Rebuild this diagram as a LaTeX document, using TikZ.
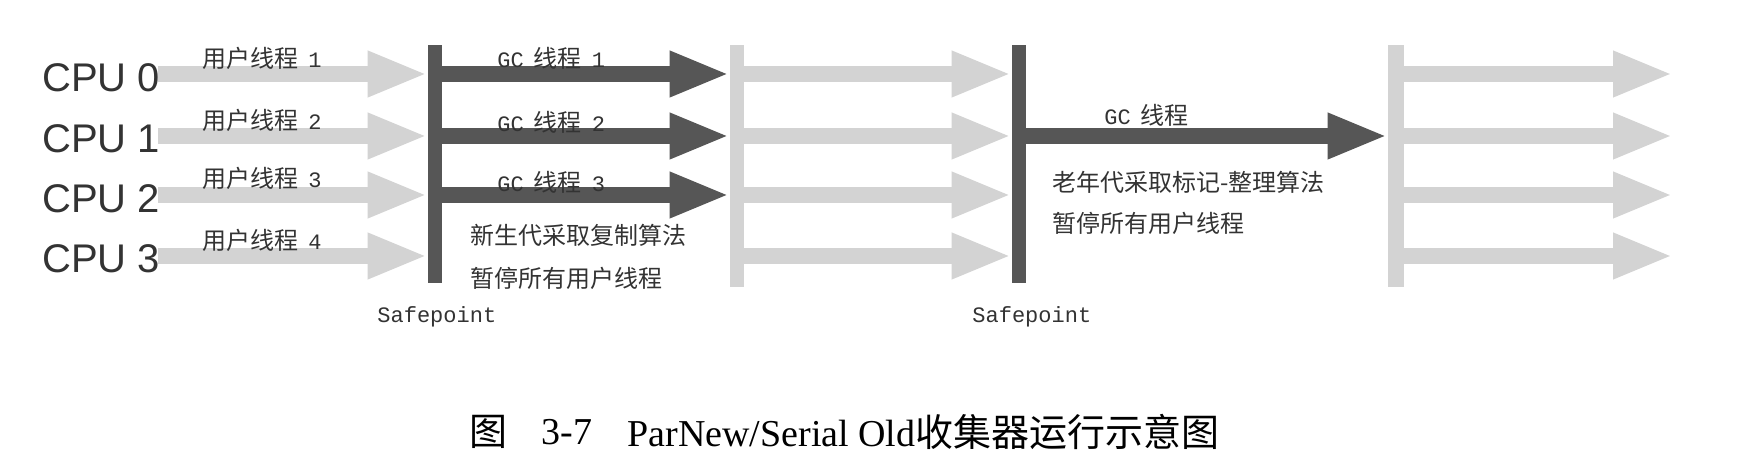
\documentclass[tikz,border=0pt]{standalone}
\usepackage{fontspec}
\setmainfont{Liberation Serif}
\newfontfamily\cjk{Noto Sans CJK SC}
\newfontfamily\arialf{Liberation Sans}
\newfontfamily\monof{Liberation Mono}
\usetikzlibrary{arrows.meta}
\definecolor{lightg}{HTML}{D3D3D3}
\definecolor{darkg}{HTML}{565656}
\definecolor{txt}{HTML}{333333}
\newcommand{\mymono}[1]{{\monof\fontsize{11pt}{11pt}\selectfont #1}}
\begin{document}
\begin{tikzpicture}[x=0.5pt,y=-0.5pt,
  lightarrow/.style={draw=lightg,line width=8pt,-{Triangle[length=30pt,width=21pt,fill=lightg]}},
  darkarrow/.style={draw=darkg,line width=8pt,-{Triangle[length=30pt,width=21pt,fill=darkg]}},
  lightbar/.style={fill=lightg,draw=none,minimum width=7pt,minimum height=121pt,inner sep=0pt},
  darkbar/.style={fill=darkg,draw=none,minimum width=7pt,minimum height=119pt,inner sep=0pt},
  cpu/.style={anchor=west,inner sep=0pt,font=\arialf\fontsize{20pt}{20pt}\selectfont,text=txt},
  lbl/.style={anchor=west,inner sep=0pt,font=\cjk\fontsize{12pt}{12pt}\selectfont,text=txt},
  sptxt/.style={anchor=west,inner sep=0pt,font=\monof\fontsize{11pt}{11pt}\selectfont,text=txt},
  captxt/.style={anchor=west,inner sep=0pt,font=\fontsize{19pt}{19pt}\selectfont,text=black}]
\fill[white] (0,0) rectangle (1738,458);
\useasboundingbox (0,0) rectangle (1738,458);

% rows
\coordinate (r0) at (0,74);
\coordinate (r1) at (0,136);
\coordinate (r2) at (0,195);
\coordinate (r3) at (0,256);
\coordinate (st) at (158,0);
\coordinate (fin) at (1673,0);

% bars
\node[darkbar] (bar1) at (435,164) {};
\node[lightbar] (bar2) at (737,166) {};
\node[darkbar] (bar3) at (1019,164) {};
\node[lightbar,minimum width=8pt] (bar4) at (1396,166) {};

% CPU labels
\node[cpu] (cpu0) at (42,78) {CPU 0};
\node[cpu] (cpu1) at (42,139) {CPU 1};
\node[cpu] (cpu2) at (42,199) {CPU 2};
\node[cpu] (cpu3) at (42,259) {CPU 3};

% user threads
\foreach \r in {r0,r1,r2,r3}{
  \draw[lightarrow] (st |- \r) -- (bar1.west |- \r);
}
% GC threads (young)
\foreach \r in {r0,r1,r2}{
  \draw[darkarrow] (bar1 |- \r) -- (bar2.west |- \r);
}
% resumed user threads
\foreach \r in {r0,r1,r2,r3}{
  \draw[lightarrow] (bar2 |- \r) -- (bar3.west |- \r);
}
% GC thread (old)
\draw[darkarrow] (bar3 |- r1) -- (bar4.west |- r1);
% final user threads
\foreach \r in {r0,r1,r2,r3}{
  \draw[lightarrow] (bar4 |- \r) -- (fin |- \r);
}

% labels
\node[lbl] (u0) at (202,58) {用户线程\hspace{5pt}\mymono{1}};
\node[lbl] (u1) at (202,120) {用户线程\hspace{5pt}\mymono{2}};
\node[lbl] (u2) at (202,178) {用户线程\hspace{5pt}\mymono{3}};
\node[lbl] (u3) at (202,240) {用户线程\hspace{5pt}\mymono{4}};

\node[lbl] (g0) at (497,58) {\mymono{GC}\hspace{5pt}线程\hspace{5pt}\mymono{1}};
\node[lbl] (g1) at (497,122) {\mymono{GC}\hspace{5pt}线程\hspace{5pt}\mymono{2}};
\node[lbl] (g2) at (497,182) {\mymono{GC}\hspace{5pt}线程\hspace{5pt}\mymono{3}};

\node[lbl] (n1) at (470,235) {新生代采取复制算法};
\node[lbl] (n2) at (470,278) {暂停所有用户线程};

\node[lbl] (g3) at (1104,115) {\mymono{GC}\hspace{5pt}线程};
\node[lbl] (o1) at (1052,182) {老年代采取标记-整理算法};
\node[lbl] (o2) at (1052,223) {暂停所有用户线程};

\node[sptxt] (sp1) at (377,317) {Safepoint};
\node[sptxt] (sp2) at (972,317) {Safepoint};

% caption
\node[captxt] (c1) at (469,432) {\cjk 图};
\node[captxt] (c2) at (541,432) {3-7};
\node[captxt] (c3) at (627,432) {ParNew/Serial Old{\cjk 收集器运行示意图}};
\end{tikzpicture}
\end{document}
